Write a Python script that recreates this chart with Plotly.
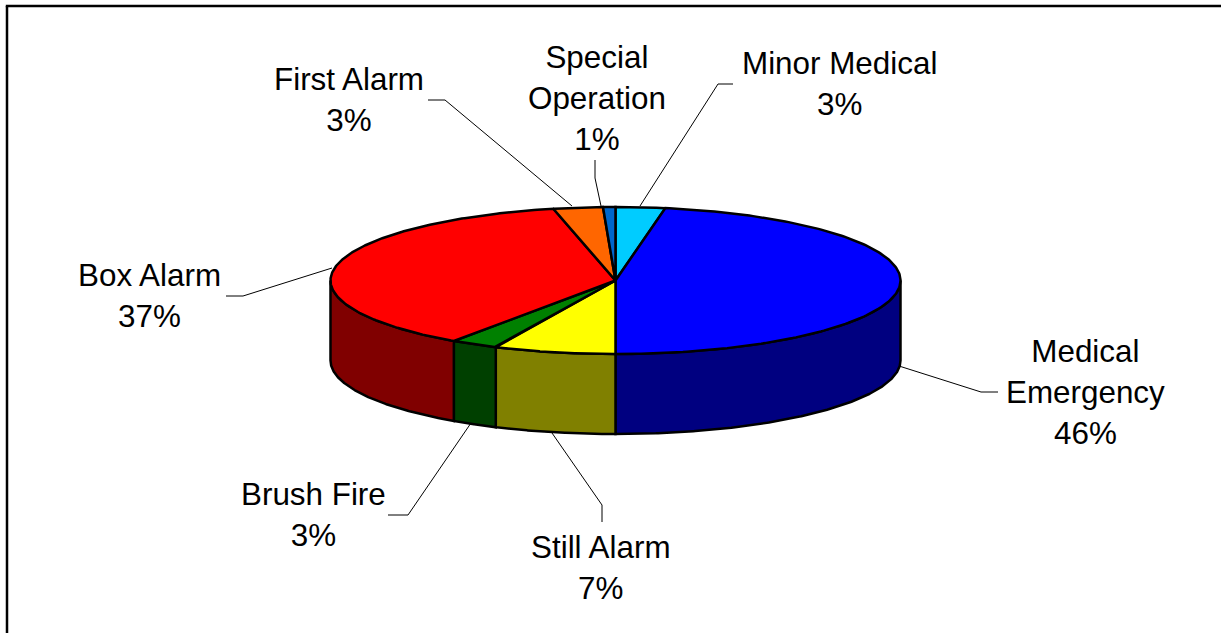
import numpy as np
import plotly.graph_objects as go

# Data, in drawing order clockwise from 12 o'clock
categories = ["Minor Medical", "Medical Emergency", "Still Alarm", "Brush Fire",
              "Box Alarm", "First Alarm", "Special Operation"]
# Slice shares
values = [2.8, 47.2, 6.9, 2.7, 36.9, 2.8, 0.7]
# Percentages printed on the chart
printed_percent = [3, 46, 7, 3, 37, 3, 1]

top_colors = ["#00CCFF", "#0000FF", "#FFFF00", "#008000", "#FF0000", "#FF6600", "#0066CC"]
side_colors = ["#006680", "#000080", "#808000", "#004000", "#800000", "#803300", "#003366"]
label_lines = [["Minor Medical"], ["Medical", "Emergency"], ["Still Alarm"], ["Brush Fire"],
               ["Box Alarm"], ["First Alarm"], ["Special", "Operation"]]

# Layout
W, H = 1221, 633
CX, CY, RX, RY, DEPTH = 615.5, 280.5, 285, 73.5, 80
FONT = dict(family="Liberation Sans, Arial, sans-serif", size=31.4, color="#000000")
label_xy = [(839, 84), (1085, 392), (601, 568), (313, 515), (149, 296), (349, 100), (597, 98)]
leader_anchor = [(640, 206), (899, 366), (552, 433), (471, 423), (332, 268), (572, 206), (601, 206)]
leader_elbow = [[(718, 84), (733, 84)], [(981, 392), (998, 392)], [(602, 505), (602, 522)],
                [(408, 515), (388, 515)], [(243, 296), (226, 296)], [(445, 100), (428, 100)],
                [(595, 178), (595, 160)]]


def ex(a):
    return CX + RX * np.sin(a)


def ey(a):
    return CY - RY * np.cos(a)


fig = go.Figure()
edges = np.cumsum([0] + values) / sum(values) * 2 * np.pi


def poly(xs, ys, fill, name):
    fig.add_trace(go.Scatter(x=list(xs), y=list(ys), mode="lines", fill="toself",
                             fillcolor=fill, name=name, hoverinfo="name",
                             line=dict(color="#000000", width=2.5)))


# Side walls of the slices on the front half
for i, cat in enumerate(categories):
    a0, a1 = max(edges[i], np.pi / 2), min(edges[i + 1], 3 * np.pi / 2)
    if a1 <= a0:
        continue
    t = np.linspace(a0, a1, 200)
    xs = np.concatenate([ex(t), ex(t[::-1]), ex(t[:1])])
    ys = np.concatenate([ey(t), ey(t[::-1]) + DEPTH, ey(t[:1])])
    poly(xs, ys, side_colors[i], cat)

# Top faces
for i, cat in enumerate(categories):
    t = np.linspace(edges[i], edges[i + 1], 200)
    xs = np.concatenate([[CX], ex(t), [CX]])
    ys = np.concatenate([[CY], ey(t), [CY]])
    poly(xs, ys, top_colors[i], cat)

# Leader lines
for anchor, elbow in zip(leader_anchor, leader_elbow):
    pts = [anchor] + elbow
    fig.add_trace(go.Scatter(x=[p[0] for p in pts], y=[p[1] for p in pts], mode="lines",
                             hoverinfo="skip", line=dict(color="#000000", width=1)))

# Labels
for lines, pct, (lx, ly) in zip(label_lines, printed_percent, label_xy):
    fig.add_annotation(x=lx, y=ly, xref="x", yref="y", showarrow=False, align="center",
                       text="<br>".join(lines + [f"{pct}%"]), font=FONT)

fig.update_layout(
    width=W, height=H, autosize=False,
    margin=dict(l=0, r=0, t=0, b=0),
    paper_bgcolor="#FFFFFF", plot_bgcolor="#FFFFFF", showlegend=False,
    xaxis=dict(range=[0, W], visible=False, fixedrange=True),
    yaxis=dict(range=[H, 0], visible=False, fixedrange=True),
    shapes=[dict(type="line", xref="x", yref="y", x0=7, x1=7, y0=6, y1=H,
                 line=dict(color="#000000", width=2.5)),
            dict(type="line", xref="x", yref="y", x0=5.8, x1=W, y0=6, y1=6,
                 line=dict(color="#000000", width=2.5))],
)
fig.write_html("out.html", config={"displayModeBar": False},
               post_script="document.body.style.margin='0';document.body.style.overflow='hidden';")
